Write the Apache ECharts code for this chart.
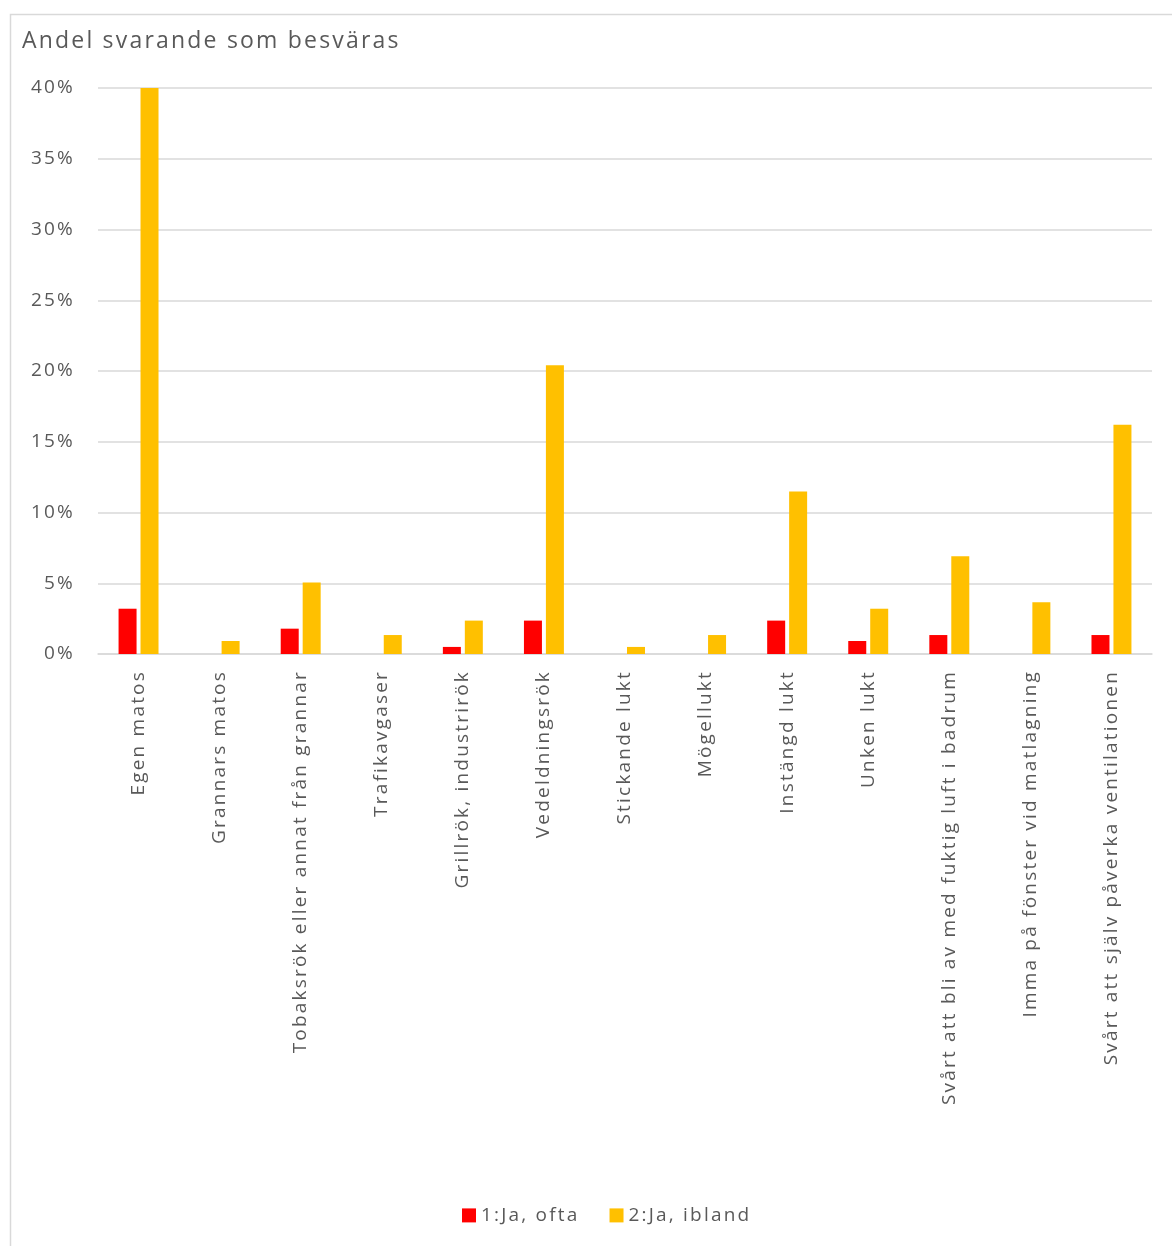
<!DOCTYPE html>
<html>
<head>
<meta charset="utf-8">
<script src="https://cdn.jsdelivr.net/npm/echarts@6/dist/echarts.min.js"></script>
<style>
html,body{margin:0;padding:0;background:#fff;}
#chart{width:1172px;height:1246px;}
</style>
</head>
<body>
<div id="chart"></div>
<script>
const categories = [
  "Egen matos",
  "Grannars matos",
  "Tobaksrök eller annat från grannar",
  "Trafikavgaser",
  "Grillrök, industrirök",
  "Vedeldningsrök",
  "Stickande lukt",
  "Mögellukt",
  "Instängd lukt",
  "Unken lukt",
  "Svårt att bli av med fuktig luft i badrum",
  "Imma på fönster vid matlagning",
  "Svårt att själv påverka ventilationen"
];
const seriesNames = ["1:Ja, ofta", "2:Ja, ibland"];
const jaOfta   = [3.2, 0, 1.79, 0, 0.5, 2.36, 0, 0, 2.36, 0.92, 1.34, 0, 1.34];
const jaIbland = [40, 0.92, 5.05, 1.34, 2.36, 20.4, 0.5, 1.34, 11.49, 3.2, 6.91, 3.66, 16.2];
const yTicks = {min: 0, max: 40, interval: 5};
const titleText = "Andel svarande som besväras";

// Widen text spacing to mimic the reference's loose letter spacing
(function () {
  const LS = '2.2px';
  const proto = CanvasRenderingContext2D.prototype;
  const origFill = proto.fillText, origMeasure = proto.measureText;
  proto.fillText = function () { this.letterSpacing = LS; return origFill.apply(this, arguments); };
  proto.measureText = function () { this.letterSpacing = LS; return origMeasure.apply(this, arguments); };
})();

const FONT = '"Open Sans", "Noto Sans", sans-serif';
const chart = echarts.init(document.getElementById('chart'), null, {renderer: 'canvas'});
chart.setOption({
  backgroundColor: '#ffffff',
  animation: false,
  title: {
    text: titleText,
    left: 17, top: 24,
    textStyle: {fontFamily: FONT, fontSize: 23, fontWeight: 'normal', color: '#595959'}
  },
  graphic: [{
    type: 'polyline',
    shape: {points: [[10.5, 1246], [10.5, 14.5], [1172, 14.5]]},
    style: {stroke: '#d9d9d9', lineWidth: 1.5, fill: null},
    silent: true
  }],
  legend: {
    bottom: 15, left: 457,
    itemWidth: 14, itemHeight: 14, itemGap: 30,
    icon: 'rect',
    textStyle: {fontFamily: FONT, fontSize: 19, color: '#595959'},
    data: seriesNames
  },
  grid: {left: 98, right: 20, top: 88, bottom: 592, containLabel: false},
  xAxis: {
    type: 'category',
    data: categories,
    axisLine: {lineStyle: {color: '#d9d9d9', width: 1.5}},
    axisTick: {show: false},
    axisLabel: {
      rotate: 90, margin: 16, interval: 0,
      fontFamily: FONT, fontSize: 19, color: '#595959'
    }
  },
  yAxis: {
    type: 'value',
    min: yTicks.min, max: yTicks.max, interval: yTicks.interval,
    axisLine: {show: false},
    axisTick: {show: false},
    splitLine: {lineStyle: {color: '#d9d9d9', width: 1.5}},
    axisLabel: {
      formatter: v => v + '%', margin: 23,
      fontFamily: FONT, fontSize: 19, color: '#595959'
    }
  },
  series: [
    {name: seriesNames[0], type: 'bar', data: jaOfta, barWidth: 18, barGap: '22%',
     itemStyle: {color: '#ff0000'}},
    {name: seriesNames[1], type: 'bar', data: jaIbland, barWidth: 18, barGap: '22%',
     itemStyle: {color: '#ffc000'}}
  ]
});
</script>
</body>
</html>
